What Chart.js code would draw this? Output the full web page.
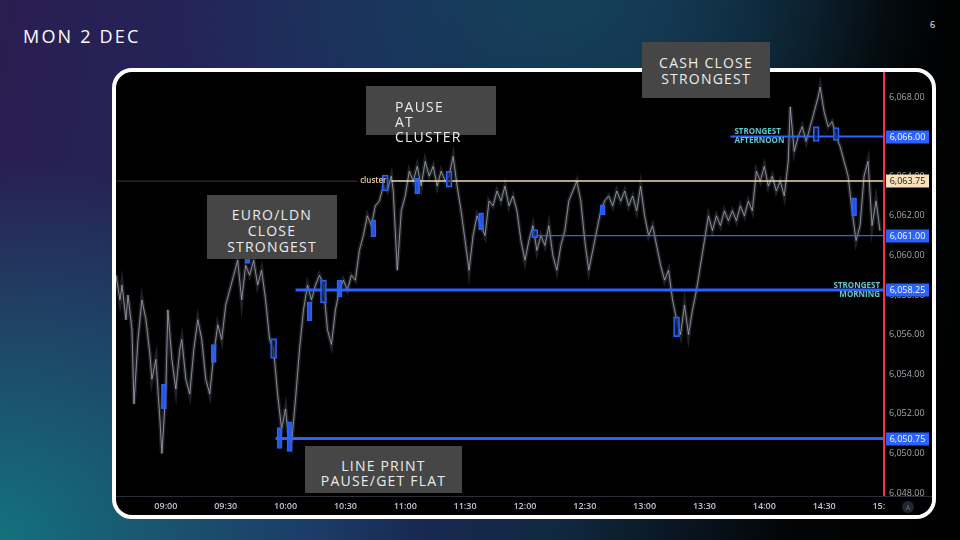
<!DOCTYPE html>
<html>
<head>
  <title>Mon 2 Dec</title>
  <script src="https://cdn.jsdelivr.net/npm/chart.js"></script>
  <style>
    body {
      margin: 0;
      width: 960px;
      height: 540px;
      overflow: hidden;
      position: relative;
      font-family: "Open Sans", sans-serif;
      background:
        radial-gradient(ellipse 420px 380px at 0% 100%, #13727d 0%, rgba(19,114,125,0) 100%),
        radial-gradient(ellipse 380px 260px at 58% 0%, #15405a 0%, rgba(21,64,90,0) 100%),
        linear-gradient(100deg, #2a1d50 0%, #1e2a60 38%, #10283f 62%, #020405 84%, #000 100%);
    }
    .title {
      position: absolute;
      left: 23px;
      top: 27px;
      color: #fff;
      font-size: 18px;
      line-height: 18px;
      letter-spacing: 2.2px;
    }
    .page {
      position: absolute;
      left: 930px;
      top: 20px;
      color: #fff;
      font-size: 9px;
      line-height: 9px;
    }
    .frame {
      position: absolute;
      left: 112px;
      top: 68px;
      width: 824px;
      height: 451px;
      box-sizing: border-box;
      border: 4px solid #fff;
      border-radius: 20px;
      background: #000;
      overflow: hidden;
    }
    .frame canvas {
      position: absolute;
      left: 0;
      top: 0;
    }
    .note {
      position: absolute;
      box-sizing: border-box;
      background: #464646;
      color: #ececec;
      font-size: 14px;
      letter-spacing: 1.2px;
      text-align: center;
      white-space: nowrap;
    }
  </style>
</head>
<body>
  <div class="title">MON 2 DEC</div>
  <div class="page">6</div>

  <div class="frame">
    <canvas id="priceChart" width="816" height="443"></canvas>
  </div>

  <div class="note" style="left:366px; top:86px; width:130px; height:49px; padding:13px 0 0 29px; text-align:left; line-height:15px;">PAUSE<br>AT<br>CLUSTER</div>
  <div class="note" style="left:207px; top:195px; width:130px; height:64px; padding-top:12px; line-height:16px;">EURO/LDN<br>CLOSE<br>STRONGEST</div>
  <div class="note" style="left:642px; top:42px; width:128px; height:56px; padding-top:13px; line-height:16px;">CASH CLOSE<br>STRONGEST</div>
  <div class="note" style="left:305px; top:446px; width:157px; height:47px; padding-top:12px; line-height:15px;">LINE PRINT<br>PAUSE/GET FLAT</div>

  <script>
    // price line
    const times = [
      "08:35","08:37","08:38","08:40","08:41","08:43","08:44","08:46","08:48","08:50",
      "08:52","08:53","08:55","08:57","08:58","09:00","09:01","09:03","09:05","09:07",
      "09:08","09:10","09:12","09:14","09:16","09:18","09:20","09:22","09:24","09:26",
      "09:28","09:30","09:32","09:34","09:36","09:38","09:40","09:42","09:44","09:46",
      "09:48","09:50","09:52","09:54","09:56","09:58","10:00","10:01","10:03","10:05",
      "10:07","10:09","10:11","10:13","10:15","10:17","10:19","10:21","10:23","10:25",
      "10:27","10:29","10:31","10:33","10:35","10:37","10:39","10:41","10:43","10:45",
      "10:47","10:49","10:51","10:53","10:54","10:56","10:58","11:00","11:02","11:04",
      "11:06","11:08","11:10","11:12","11:14","11:16","11:18","11:20","11:22","11:24",
      "11:26","11:28","11:30","11:32","11:34","11:36","11:38","11:40","11:42","11:44",
      "11:46","11:48","11:50","11:52","11:54","11:56","11:58","12:00","12:02","12:04",
      "12:06","12:08","12:10","12:12","12:14","12:16","12:18","12:20","12:22","12:24",
      "12:26","12:28","12:30","12:32","12:34","12:36","12:38","12:40","12:42","12:44",
      "12:46","12:48","12:50","12:52","12:54","12:56","12:58","13:00","13:02","13:04",
      "13:06","13:08","13:10","13:12","13:14","13:16","13:18","13:20","13:22","13:24",
      "13:26","13:28","13:30","13:32","13:34","13:36","13:38","13:40","13:42","13:44",
      "13:46","13:48","13:50","13:52","13:54","13:56","13:58","14:00","14:02","14:04",
      "14:06","14:08","14:10","14:12","14:13","14:15","14:17","14:19","14:21","14:23",
      "14:25","14:27","14:28","14:30","14:32","14:34","14:36","14:38","14:40","14:42",
      "14:44","14:46","14:48","14:50","14:52","14:54","14:56","14:58"
    ];
    const prices = [
      6059.0, 6057.75, 6058.5, 6056.75, 6058.0, 6056.25, 6052.5, 6055.75, 6057.75, 6056.75,
      6055.0, 6053.75, 6054.75, 6051.75, 6050.0, 6053.25, 6057.25, 6054.75, 6053.25, 6055.25,
      6055.75, 6053.75, 6053.0, 6055.25, 6056.75, 6055.75, 6053.75, 6053.0, 6055.0, 6056.5,
      6055.75, 6057.5, 6058.25, 6059.0, 6059.75, 6057.75, 6059.5, 6059.0, 6059.75, 6058.5,
      6059.25, 6057.75, 6055.75, 6055.25, 6053.0, 6051.25, 6052.25, 6051.25, 6050.5, 6052.75,
      6055.25, 6057.25, 6058.5, 6057.75, 6058.5, 6059.0, 6058.5, 6056.25, 6055.5, 6057.25,
      6058.25, 6058.75, 6058.25, 6059.0, 6058.75, 6060.25, 6061.0, 6062.0, 6061.5, 6062.5,
      6062.75, 6063.5, 6063.25, 6064.0, 6063.25, 6059.25, 6062.25, 6063.0, 6064.25, 6063.75,
      6064.5, 6063.5, 6064.75, 6064.0, 6064.5, 6063.5, 6064.25, 6063.75, 6064.0, 6065.0,
      6063.5, 6062.25, 6060.75, 6059.25, 6061.0, 6062.0, 6061.5, 6061.0, 6062.75, 6062.5,
      6063.25, 6062.75, 6063.5, 6062.5, 6063.0, 6062.25, 6060.75, 6059.75, 6060.75, 6061.5,
      6060.25, 6061.0, 6060.5, 6061.5, 6060.0, 6059.25, 6060.5, 6061.25, 6062.75, 6063.25,
      6063.75, 6062.75, 6060.75, 6059.25, 6060.25, 6061.25, 6062.25, 6062.75, 6063.0, 6062.5,
      6063.25, 6062.75, 6063.25, 6062.5, 6063.0, 6062.25, 6063.5, 6062.0, 6061.0, 6061.5,
      6060.5, 6059.5, 6058.75, 6059.25, 6057.75, 6056.75, 6056.0, 6057.5, 6056.0, 6057.25,
      6058.25, 6059.5, 6060.75, 6062.0, 6061.25, 6062.0, 6061.5, 6062.25, 6061.75, 6062.25,
      6061.75, 6062.5, 6062.0, 6062.75, 6062.25, 6064.25, 6063.75, 6064.5, 6063.5, 6064.0,
      6063.25, 6063.75, 6063.0, 6064.75, 6067.5, 6065.25, 6066.0, 6066.5, 6065.75, 6066.5,
      6067.25, 6068.0, 6068.5, 6067.25, 6066.5, 6066.75, 6066.0, 6065.5, 6064.75, 6064.0,
      6062.25, 6060.75, 6061.5, 6064.0, 6064.75, 6061.5, 6062.75, 6061.25
    ];

    // blue boxes drawn on the chart
    const markerTimes = ["08:59","09:24","09:41","09:54","09:57","10:02","10:12","10:19","10:27","10:44",
                         "10:50","11:06","11:22","11:38","12:05","12:39","13:16","14:26","14:36","14:45"];
    const markerLows  = [6052.25, 6054.6, 6059.6, 6054.8, 6050.25, 6050.1, 6056.7, 6057.6, 6057.9, 6060.95,
                         6063.25, 6063.1, 6063.45, 6061.3, 6060.9, 6062.05, 6055.9, 6065.75, 6065.8, 6062.0];
    const markerHighs = [6053.5, 6055.5, 6060.5, 6055.8, 6051.3, 6051.6, 6057.65, 6058.75, 6058.75, 6061.8,
                         6064.05, 6063.9, 6064.25, 6062.15, 6061.3, 6062.55, 6056.9, 6066.5, 6066.45, 6062.9];
    const markerHollow = [false, false, false, true, false, false, false, true, false, false,
                          true, false, true, false, true, false, true, true, true, false];

    // horizontal levels
    const levelPrices = [6066.00, 6063.75, 6061.00, 6058.25, 6050.75];
    const levelStarts = ["13:43", "10:53", "12:05", "10:05", "09:55"];
    const clusterFaint = ["08:35", "10:36"];
    const levelColors = ["#2962ff", "#f3dab2", "#2962ff", "#2962ff", "#2962ff"];
    const levelWidths = [2, 1.5, 1.2, 3, 3];

    const xMin = 515, xMax = 900;
    const yMin = 6047.85, yMax = 6069.26;

    function toMin(s) {
      const p = s.split(":").map(Number);
      return p[0] * 60 + p[1];
    }
    function fmtTime(v) {
      const h = Math.floor(v / 60), m = v % 60;
      return String(h).padStart(2, "0") + ":" + String(m).padStart(2, "0");
    }
    function fmtPrice(v) {
      return v.toLocaleString("en-US", { minimumFractionDigits: 2, maximumFractionDigits: 2 });
    }

    const pricePoints = times.map((t, i) => ({ x: toMin(t), y: prices[i] }));
    const datasets = [];

    // soft halo under the price line, then the line itself
    datasets.push({
      type: "line",
      data: pricePoints,
      borderColor: "rgba(110,115,130,0.28)",
      borderWidth: 4,
      pointRadius: 0,
      tension: 0,
      order: 11
    });
    datasets.push({
      type: "line",
      data: pricePoints,
      borderColor: "rgba(175,179,192,0.72)",
      borderWidth: 1,
      pointRadius: 0,
      tension: 0,
      order: 10
    });

    datasets.push({
      type: "line",
      data: [{ x: toMin(clusterFaint[0]), y: levelPrices[1] }, { x: toMin(clusterFaint[1]), y: levelPrices[1] }],
      borderColor: "rgba(130,100,70,0.55)",
      borderWidth: 1,
      pointRadius: 0,
      order: 6
    });

    levelPrices.forEach((p, i) => {
      datasets.push({
        type: "line",
        data: [{ x: toMin(levelStarts[i]), y: p }, { x: xMax, y: p }],
        borderColor: levelColors[i],
        borderWidth: levelWidths[i],
        pointRadius: 0,
        order: 5
      });
    });

    const filled = [], hollow = [];
    markerTimes.forEach((t, i) => {
      const pt = { x: toMin(t), y: [markerLows[i], markerHighs[i]] };
      (markerHollow[i] ? hollow : filled).push(pt);
    });
    datasets.push({
      type: "bar",
      data: filled,
      backgroundColor: "rgba(41,98,255,0.85)",
      borderColor: "#2962ff",
      borderWidth: 1,
      borderSkipped: false,
      barThickness: 5,
      grouped: false,
      order: 1
    });
    datasets.push({
      type: "bar",
      data: hollow,
      backgroundColor: "rgba(20,30,60,0.6)",
      borderColor: "#2962ff",
      borderWidth: 1.5,
      borderSkipped: false,
      barThickness: 6,
      grouped: false,
      order: 1
    });

    const overlay = {
      id: "overlay",
      afterDraw(chart) {
        const ctx = chart.ctx;
        const a = chart.chartArea;
        const x = chart.scales.x, y = chart.scales.y;
        ctx.save();

        // hide the tail of the last time label under the price axis
        ctx.fillStyle = "#000";
        ctx.fillRect(a.right + 1, a.bottom + 4, chart.width - a.right, chart.height - a.bottom);

        // separator above the time axis
        ctx.strokeStyle = "#2a2e39";
        ctx.lineWidth = 1;
        ctx.beginPath();
        ctx.moveTo(0, a.bottom + 0.5);
        ctx.lineTo(chart.width, a.bottom + 0.5);
        ctx.stroke();

        // cluster tag
        ctx.font = "600 8px 'Open Sans'";
        ctx.fillStyle = "#e8cfa0";
        ctx.textAlign = "center";
        ctx.textBaseline = "middle";
        ctx.fillText("cluster", x.getPixelForValue(toMin("10:44")), y.getPixelForValue(levelPrices[1]));

        // strongest labels
        ctx.font = "bold 8px 'Open Sans'";
        ctx.fillStyle = "#5fc9cf";
        ctx.textAlign = "left";
        const ya = y.getPixelForValue(levelPrices[0]);
        const xa = x.getPixelForValue(toMin("13:45"));
        ctx.fillText("STRONGEST", xa, ya - 4.5);
        ctx.fillText("AFTERNOON", xa, ya + 4.5);
        ctx.textAlign = "right";
        const ym = y.getPixelForValue(levelPrices[3]);
        const xm = x.getPixelForValue(toMin("14:58"));
        ctx.fillText("STRONGEST", xm, ym - 4.5);
        ctx.fillText("MORNING", xm, ym + 4.5);

        // price tags on the right axis
        ctx.font = "9px 'Open Sans'";
        ctx.textAlign = "center";
        levelPrices.forEach((p, i) => {
          const py = Math.round(y.getPixelForValue(p));
          ctx.fillStyle = i === 1 ? "#f8e1b8" : "#2962ff";
          ctx.fillRect(a.right + 2, py - 6.5, 43, 13);
          ctx.fillStyle = i === 1 ? "#131722" : "#fff";
          ctx.fillText(fmtPrice(p), a.right + 23.5, py + 0.5);
        });

        // current time line
        ctx.strokeStyle = "#f23645";
        ctx.lineWidth = 2;
        ctx.beginPath();
        ctx.moveTo(a.right, a.top);
        ctx.lineTo(a.right, a.bottom);
        ctx.stroke();

        // auto-scale button
        ctx.fillStyle = "#22252e";
        ctx.beginPath();
        ctx.arc(a.right + 24, a.bottom + 11, 6, 0, Math.PI * 2);
        ctx.fill();
        ctx.fillStyle = "#6c6f78";
        ctx.font = "7px 'Open Sans'";
        ctx.fillText("A", a.right + 24, a.bottom + 11.5);

        ctx.restore();
      }
    };

    function noPad(s) {
      s.paddingTop = 0;
      s.paddingBottom = 0;
      s.paddingLeft = 0;
      s.paddingRight = 0;
    }

    new Chart(document.getElementById("priceChart").getContext("2d"), {
      type: "line",
      data: { datasets: datasets },
      options: {
        responsive: false,
        animation: false,
        events: [],
        layout: { padding: 0 },
        plugins: { legend: { display: false }, tooltip: { enabled: false } },
        scales: {
          x: {
            type: "linear",
            min: xMin,
            max: xMax,
            offset: false,
            grid: { display: false, drawTicks: false },
            border: { display: false },
            ticks: {
              stepSize: 30,
              includeBounds: false,
              padding: 5,
              maxRotation: 0,
              autoSkip: false,
              color: "#c3c6cd",
              font: { family: "Open Sans", size: 9, weight: "600" },
              callback: v => fmtTime(v)
            },
            afterBuildTicks: s => { s.ticks = s.ticks.filter(t => t.value % 30 === 0); },
            afterFit: s => { s.height = 19; noPad(s); }
          },
          y: {
            position: "right",
            min: yMin,
            max: yMax,
            grid: { display: false, drawTicks: false },
            border: { display: false },
            ticks: {
              stepSize: 2,
              includeBounds: false,
              padding: 5,
              color: "#a4a7b0",
              font: { family: "Open Sans", size: 9 },
              callback: v => fmtPrice(v)
            },
            afterBuildTicks: s => { s.ticks = s.ticks.filter(t => Number.isInteger(t.value) && t.value % 2 === 0); },
            afterFit: s => { s.width = 48; noPad(s); }
          }
        }
      },
      plugins: [overlay]
    });
  </script>
</body>
</html>
